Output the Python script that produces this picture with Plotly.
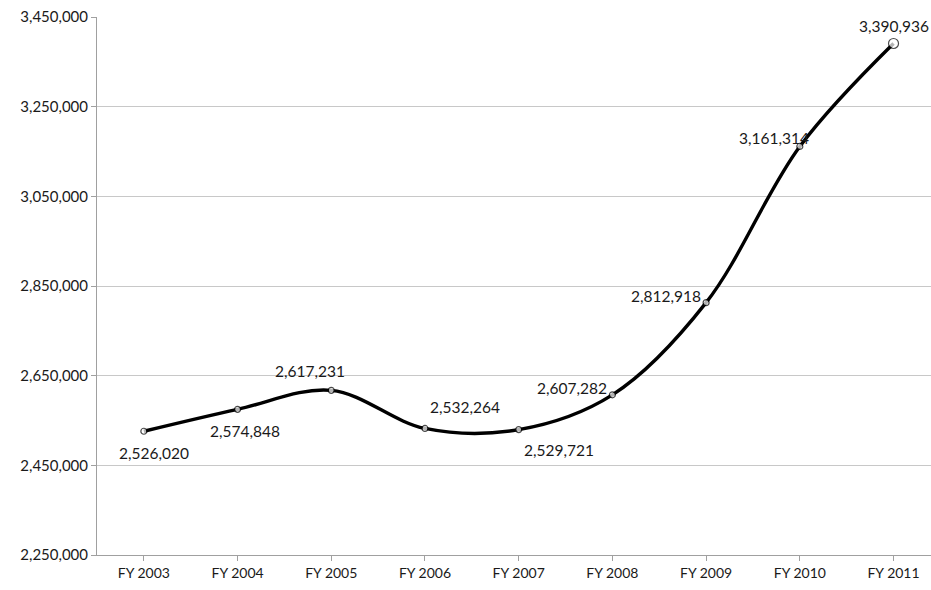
import plotly.graph_objects as go

# Fiscal-year totals
years = ["FY 2003", "FY 2004", "FY 2005", "FY 2006", "FY 2007",
         "FY 2008", "FY 2009", "FY 2010", "FY 2011"]
totals = [2526020, 2574848, 2617231, 2532264, 2529721,
          2607282, 2812918, 3161314, 3390936]

y_ticks = [2250000, 2450000, 2650000, 2850000, 3050000, 3250000, 3450000]

# pixel offsets of each value label relative to its point
label_dx = [10, 7, -21, 40, 40, -40, -40, -26, 0]
label_dy = [22, 22, -19, -21, 20, -7, -7, -8, -17]

fig = go.Figure()
fig.add_trace(go.Scatter(
    x=list(range(len(years))), y=totals,
    mode="lines+markers",
    line=dict(color="black", width=3.4, shape="spline", smoothing=1.0),
    marker=dict(size=[6] * (len(years) - 1) + [10], color="white",
                line=dict(color="black", width=1.2)),
    hoverinfo="skip",
))

for i, v in enumerate(totals):
    fig.add_annotation(
        x=i, y=v, text=f"{v:,}", showarrow=False,
        xshift=label_dx[i], yshift=-label_dy[i],
        font=dict(family="Lato", size=15.5, color="#1a1a1a"),
    )

fig.update_layout(
    width=931, height=590,
    margin=dict(l=97, r=0, t=17, b=35),
    paper_bgcolor="white", plot_bgcolor="white",
    showlegend=False,
    font=dict(family="Lato", size=14, color="#1a1a1a"),
)
fig.update_xaxes(
    range=[-0.5, 8.4],
    tickmode="array", tickvals=list(range(len(years))), ticktext=years,
    showgrid=False, showline=True, linecolor="#a0a0a0", linewidth=1,
    ticks="outside", ticklen=5, tickcolor="#a0a0a0", tickson="boundaries",
    tickfont=dict(family="Lato", size=14, color="#1a1a1a"),
    zeroline=False,
)
fig.update_yaxes(
    range=[2250000, 3450000],
    tickmode="array", tickvals=y_ticks,
    ticktext=[f"{t:,}" for t in y_ticks],
    showgrid=True, gridcolor="#c8c8c8", gridwidth=1,
    showline=True, linecolor="#a0a0a0", linewidth=1,
    ticks="outside", ticklen=5, tickcolor="#a0a0a0",
    tickfont=dict(family="Lato", size=15, color="#1a1a1a"),
    zeroline=False,
)

fig.write_html("out.html")
